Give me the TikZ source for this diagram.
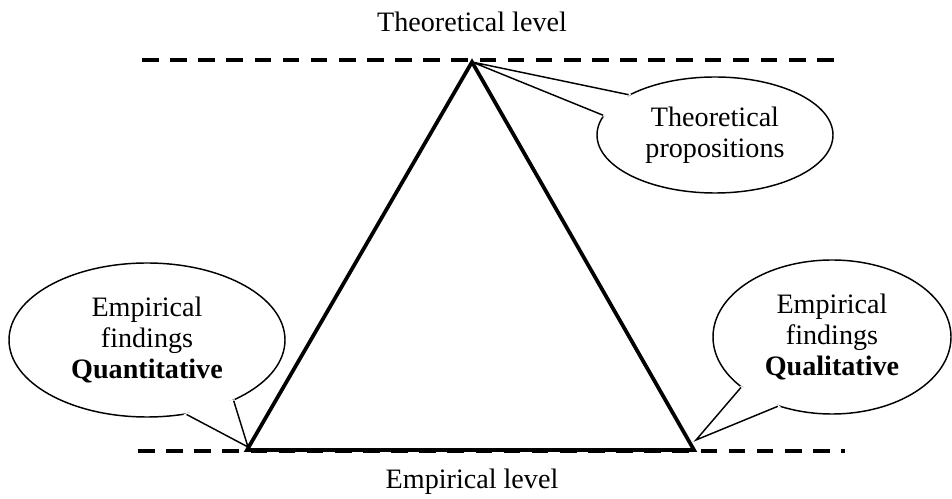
\documentclass[tikz,border=0pt]{standalone}
\usepackage{fontspec}
\setmainfont{Liberation Serif}
\usetikzlibrary{shapes.geometric}

\begin{document}
\begin{tikzpicture}[
    x=0.48pt, y=-0.48pt,
    every node/.style={
        align=center,
        font=\fontsize{13.5}{15}\selectfont
    },
    level/.style={dash pattern=on 8pt off 5.5pt, line width=1.9pt},
    side/.style={line width=1.8pt, line join=miter},
    bubble/.style={
        draw,
        ellipse,
        fill=white,
        line width=0.7pt,
        inner sep=0pt
    },
    gap/.style={fill=white, draw=white, line width=1.2pt},
    pointer/.style={line width=0.7pt, line join=miter}
]
\useasboundingbox (0,0) rectangle (952,499);

% callouts
\coordinate (apex) at (472,62);
\coordinate (quant) at (247,450);
\coordinate (qual) at (694,450);
\coordinate (quanttip) at (248,447);
\coordinate (qualtip) at (696,440);

\node (theoprop) [bubble, minimum width=236*0.48pt, minimum height=116*0.48pt]
    at (715,135) {Theoretical\\propositions};
\node (quantfind) [bubble, minimum width=276*0.48pt, minimum height=154*0.48pt]
    at (147,340) {Empirical\\findings\\\textbf{Quantitative}};
\node (qualfind) [bubble, minimum width=238*0.48pt, minimum height=154*0.48pt]
    at (832,337) {Empirical\\findings\\\textbf{Qualitative}};

\path[gap] (theoprop.155) -- (apex) -- (theoprop.170) -- cycle;
\draw[pointer] (theoprop.155) -- (apex) -- (theoprop.170);
\path[gap] (quantfind.298) -- (quanttip) -- (quantfind.325) -- cycle;
\draw[pointer] (quantfind.298) -- (quanttip) -- (quantfind.325);
\path[gap] (qualfind.209) -- (qualtip) -- (qualfind.232) -- cycle;
\draw[pointer] (qualfind.209) -- (qualtip) -- (qualfind.232);

% level lines
\coordinate (topleft) at (142,60);
\coordinate (topright) at (834,60);
\coordinate (botleft) at (138,451);
\coordinate (botright) at (845,451);
\draw[level] (topleft) -- (topright);
\draw[level] (botleft) -- (botright);

\node (theolevel) at (472,22) {Theoretical level};
\node (emplevel) at (472,482) {Empirical level};

% triangle
\draw[side] (apex) -- (quant) -- (qual) -- cycle;

\end{tikzpicture}
\end{document}
